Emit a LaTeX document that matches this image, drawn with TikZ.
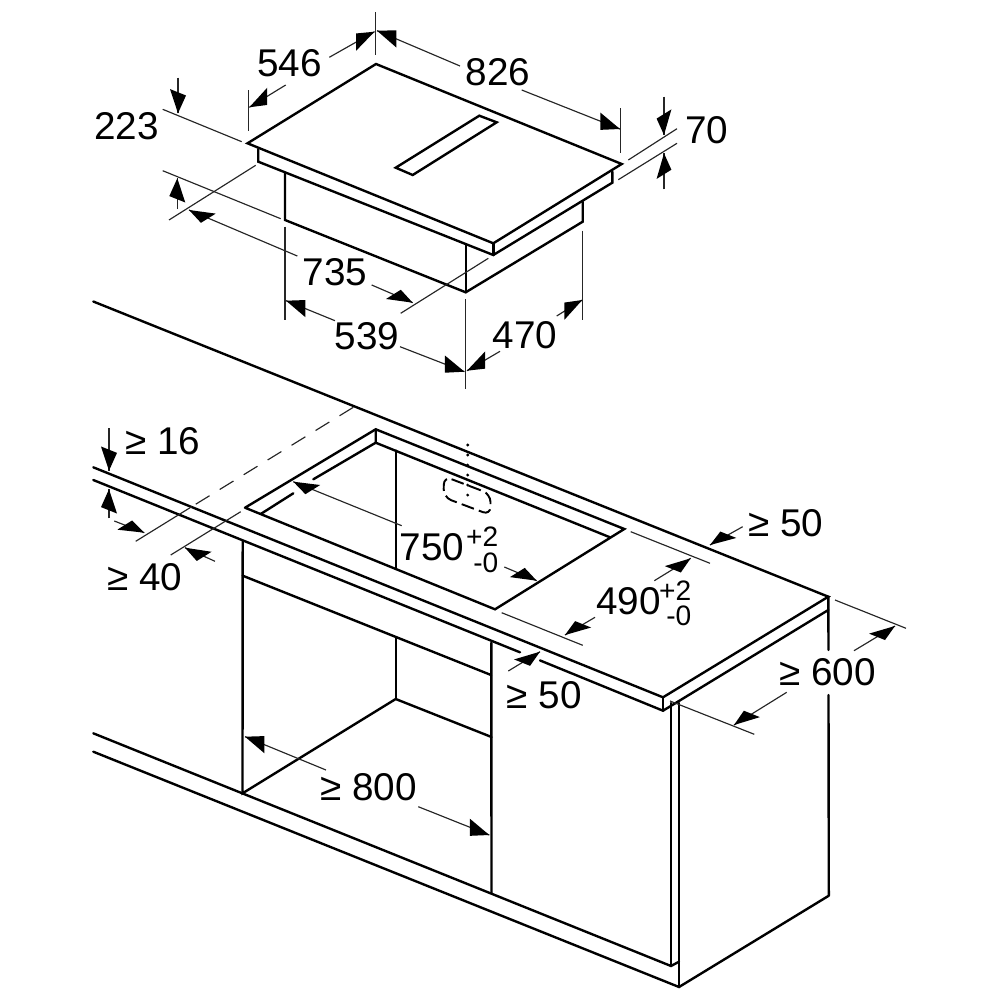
\documentclass[tikz,border=0pt]{standalone}
\usepackage{fontspec}
\setmainfont{Liberation Sans}
\usetikzlibrary{calc}
\tikzset{
  heavy/.style={line width=0.68pt,line join=miter,line cap=round},
  thin line/.style={line width=0.33pt,black!85},
  lab/.style={anchor=base,inner sep=0pt,font=\fontsize{11}{12}\selectfont},
  tol/.style={anchor=base east,inner sep=0pt,font=\fontsize{8}{9}\selectfont},
}
\newcommand\dimarrow[4]{% tail, tip, half base x, half base y
  \draw[thin line] #1 -- #2;
  \fill[black] #2 -- ($#2!2.1mm!#1+(#3,#4)$) -- ($#2!2.1mm!#1-(#3,#4)$) -- cycle;
}
\newcommand\ArrV[2]{\dimarrow{#1}{#2}{0}{8.6}}
\newcommand\ArrW[2]{\dimarrow{#1}{#2}{8}{3.2}}
\newcommand\ArrD[2]{\dimarrow{#1}{#2}{7.4}{-4.6}}
\begin{document}
\begin{tikzpicture}[x=0.01cm,y=-0.01cm]
\useasboundingbox (0,0) rectangle (1000,1000);
% hob corners
\coordinate (hT) at (376,64);
\coordinate (hL) at (247.5,143.3);
\coordinate (hR) at (621.7,164);
\coordinate (hF) at (493.3,243.3);
\coordinate (sL) at (258.3,149);
\coordinate (sLb) at (258.3,161.7);
\coordinate (sF) at (493.3,255);
\coordinate (sR) at (612.3,171.7);
\coordinate (sRb) at (612.3,182.7);
\coordinate (bL) at (285,172.7);
\coordinate (bLb) at (285,220);
\coordinate (bF) at (465.7,245);
\coordinate (bFb) at (465.7,292.3);
\coordinate (bR) at (582.7,201.7);
\coordinate (bRb) at (582.7,221.7);
% hob
\draw[heavy] (hT) -- (hR) -- (hF) -- (hL) -- cycle;
\draw[heavy] (sL) -- (sLb) -- (sF) -- (sRb) -- (sR);
\draw[heavy] (hF) -- (sF);
\draw[heavy] (bL) -- (bLb) -- (bFb) -- (bRb) -- (bR);
\draw[heavy] (bF) -- (bFb);
\draw[heavy] (395.7,167.7) -- (412.7,175) -- (496.7,122.3) -- (479.3,115.7) -- cycle;
% hob extension lines
\draw[thin line] (375.7,12.3) -- (375.7,55);
\draw[thin line] (248.7,90) -- (248.7,131);
\draw[thin line] (620.7,108.3) -- (620.7,152.7);
\draw[thin line] (628.3,160) -- (677,128.7);
\draw[thin line] (618.3,179.7) -- (677,143.3);
\draw[thin line] (162.7,109.3) -- (241.7,141.7);
\draw[thin line] (162.7,170.7) -- (280.7,218.7);
\draw[thin line] (169,220) -- (255.7,165.3);
\draw[thin line] (400.7,313.3) -- (488.3,258.3);
\draw[thin line] (285,226.7) -- (285,320);
\draw[thin line] (465.7,299.3) -- (465.7,389.3);
\draw[thin line] (582.7,230.7) -- (582.7,320);
% hob arrows
\ArrV{(329.3,57.3)}{(374.5,31.7)}
\ArrV{(285.7,85)}{(249.3,107.3)}
\ArrV{(460,66)}{(377,30.7)}
\ArrV{(521.7,90)}{(620,129)}
\ArrD{(664,96.7)}{(664,135)}
\ArrD{(664,189.3)}{(664,153.3)}
\ArrW{(178,77.7)}{(178,113.3)}
\ArrW{(177.3,209)}{(177.3,178.3)}
\ArrD{(297.3,256)}{(189,210)}
\ArrD{(371.7,285)}{(412.7,302.7)}
\ArrV{(335,320.7)}{(286,300.7)}
\ArrV{(400,346.7)}{(464.5,371.7)}
\ArrV{(500,351.3)}{(467,370.7)}
\ArrV{(556.7,316)}{(582.3,300)}
% hob labels
\node[lab] (l546) at (289.5,76.7) {546};
\node[lab] (l826) at (498,85) {826};
\node[lab] (l223) at (126.7,139.3) {223};
\node[lab] (l70) at (706.7,143.3) {70};
\node[lab] (l735) at (335,285.7) {735};
\node[lab] (l539) at (367,349) {539};
\node[lab] (l470) at (525,348.3) {470};
% worktop
\coordinate (wB) at (93.3,301.5);
\coordinate (wC) at (828.3,596.7);
\coordinate (wA) at (93.3,467.3);
\coordinate (wF) at (663,697.3);
\coordinate (wAl) at (93.3,480);
\coordinate (wFl) at (663,710.7);
\coordinate (wCl) at (828.3,610);
\draw[heavy] (wB) -- (wC) -- (wF) -- (wA);
\draw[heavy] (wAl) -- (520,652.3);
\draw[heavy] (540,660.4) -- (wFl) -- (wCl);
\draw[heavy] (wF) -- (wFl);
\draw[heavy] (wC) -- (828.5,650);
\draw[heavy] (828.5,695) -- (828.8,895.7);
\draw[heavy] (671,703) -- (671,966);
\draw[heavy] (679,703) -- (679,987);
% plinth
\draw[heavy] (93.3,733.3) -- (671,966) -- (679,961.7);
\draw[heavy] (93.3,751.7) -- (679,987) -- (828.8,895.7);
% cut-out
\coordinate (cT) at (375.7,429.3);
\coordinate (cTi) at (375.7,442.7);
\coordinate (cL) at (245,507.7);
\coordinate (cLi) at (260.7,514);
\coordinate (cR) at (624.3,529);
\coordinate (cRi) at (610,537.3);
\coordinate (cF) at (495,609.3);
\draw[heavy] (cL) -- (cT) -- (cR) -- (cF) -- (cL);
\draw[heavy] (cT) -- (cTi) -- (cRi);
\draw[heavy] (cTi) -- (313.3,479.3);
\draw[heavy] (293.3,493.3) -- (cLi);
\draw[heavy] (395.7,450.5) -- (395.7,568.3);
% duct outline
\draw[line width=0.9pt,line cap=round,dash pattern=on 0pt off 2.85pt] (467.7,445) -- (467.7,498.3);
\draw[line width=0.55pt,dash pattern=on 3.7pt off 1.5pt,rounded corners=2.3pt]
  (444,476.3) -- (490.5,494) -- (490.5,515) -- (443.5,497.3) -- cycle;
% cabinet
\draw[heavy] (242.7,541.7) -- (242.5,793.3) -- (395.7,699) -- (491.5,737);
\draw[heavy] (242.7,575.7) -- (491,675);
\draw[heavy] (491.3,642.7) -- (491.5,893.3);
\draw[heavy] (395.7,637.3) -- (395.7,699);
% worktop extension lines
\draw[thin line,dash pattern=on 4.6pt off 3.4pt] (353.3,407.3) -- (191.7,506.7);
\draw[thin line] (191.7,506.7) -- (135.7,541.3);
\draw[thin line] (240.7,511.7) -- (170.7,555);
\draw[thin line] (501.7,612.7) -- (582.7,645.3);
\draw[thin line] (630.7,531.7) -- (710,563.3);
\draw[thin line] (835,600) -- (906,628.3);
\draw[thin line] (670,701) -- (754.3,734.3);
% worktop arrows
\ArrW{(109,428.3)}{(109,470.7)}
\ArrW{(109,518.3)}{(109,489.3)}
\ArrD{(114.3,521)}{(144.3,532.7)}
\ArrD{(215,561.3)}{(185,547.7)}
\ArrD{(401.7,525.7)}{(293.3,481.7)}
\ArrD{(504.3,567)}{(536.7,580.7)}
\ArrW{(595,617.3)}{(565,635)}
\ArrW{(654.3,580.7)}{(690.7,558.3)}
\ArrW{(742.7,526.7)}{(710,545)}
\ArrW{(508.3,671)}{(540,651.7)}
\ArrW{(854,650.7)}{(895,626)}
\ArrW{(786.7,692.3)}{(734,725)}
\ArrV{(326,770)}{(245,736.7)}
\ArrV{(418.3,806.7)}{(489.3,835)}
% worktop labels
\node[lab] (g16) at (162.7,454.3) {≥ 16};
\node[lab] (g40) at (145,590) {≥ 40};
\node[lab] (l750) at (432,560) {750};
\node[tol] (l750p) at (499,546.7) {+2};
\node[tol] (l750m) at (499,572.7) {-0};
\node[lab] (l490) at (628.3,614) {490};
\node[tol] (l490p) at (692,600) {+2};
\node[tol] (l490m) at (692,625.3) {-0};
\node[lab] (g50r) at (786,536.7) {≥ 50};
\node[lab] (g50l) at (544.3,708.3) {≥ 50};
\node[lab] (g600) at (827.5,685.3) {≥ 600};
\node[lab] (g800) at (368.7,800) {≥ 800};
\end{tikzpicture}
\end{document}
